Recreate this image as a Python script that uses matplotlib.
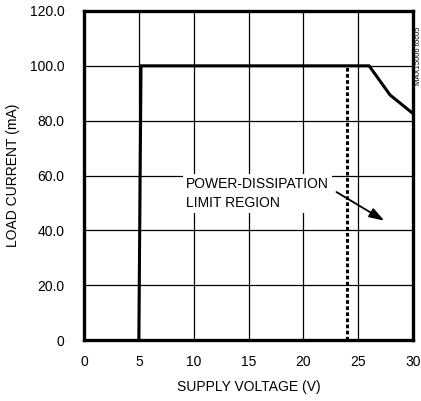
import matplotlib
matplotlib.use("Agg")
import matplotlib.pyplot as plt

plt.rcParams['font.family'] = ['Liberation Sans', 'DejaVu Sans']

voltage = [0, 5.0, 5.2, 26.0, 27.9, 30.0]
current = [0, 0, 100, 100, 89.4, 82.6]
limit_v = [24.0, 24.0]
limit_i = [0, 100]
xticks = [0, 5, 10, 15, 20, 25, 30]
yticks = [0, 20, 40, 60, 80, 100, 120]
ylabels = ['0', '20.0', '40.0', '60.0', '80.0', '100.0', '120.0']

fig = plt.figure(figsize=(4.21, 4.01), dpi=100)
ax = fig.add_axes([84/421, 61/401, 329/421, 329/401])

ax.plot(voltage[1:], current[1:], color='black', lw=2.2, solid_joinstyle='miter', zorder=3)
ax.plot(limit_v, limit_i, color='black', lw=2.2, ls=(0, (1.2, 0.8)), zorder=3)

ax.set_xlim(0, 30)
ax.set_ylim(0, 120)
ax.set_xticks(xticks)
ax.set_yticks(yticks)
ax.set_yticklabels(ylabels)
ax.grid(True, color='black', lw=0.9)
ax.tick_params(length=0, labelsize=10)
ax.tick_params(axis='x', pad=11)
ax.tick_params(axis='y', pad=14)
for s in ax.spines.values():
    s.set_linewidth(2.4)
    s.set_zorder(4)

ax.set_xlabel('SUPPLY VOLTAGE (V)', fontsize=10, labelpad=8)
ax.set_ylabel('LOAD CURRENT (mA)', fontsize=10, labelpad=7)

ax.text(9.3, 53.5, 'POWER-DISSIPATION\nLIMIT REGION', fontsize=10, ha='left', va='center',
        linespacing=1.45, bbox=dict(facecolor='white', edgecolor='none', pad=2), zorder=5)
ax.annotate('', xy=(27.6, 43.0), xytext=(22.8, 54.5),
            arrowprops=dict(arrowstyle='-|>,head_length=0.9,head_width=0.3', color='black', lw=1.3),
            zorder=5)

fig.text(0.994, 0.86, 'MAX15006 toc05', rotation=90, fontsize=5.5, ha='center', va='center')

fig.savefig('out.png', dpi=100)
